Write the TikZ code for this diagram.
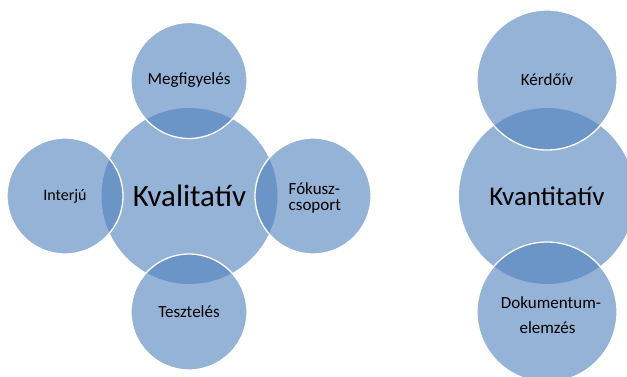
\documentclass[tikz,border=0pt]{standalone}
\usepackage{fontspec}
\setmainfont{Carlito}
\definecolor{circblue}{RGB}{79,129,189}
\tikzset{
  bigc/.style={circle, inner sep=0pt, outer sep=0pt, fill=circblue, fill opacity=0.6, text opacity=1, draw=none},
  smallc/.style={circle, inner sep=0pt, outer sep=0pt, fill=circblue, fill opacity=0.6, text opacity=1, draw=white, line width=1.3pt},
  smalltxt/.style={font=\fontsize{17}{17}\selectfont, text=black, inner sep=0pt},
  bigtxt/.style={font=\fontsize{31}{31}\selectfont, text=black, inner sep=0pt}
}
\begin{document}
\begin{tikzpicture}[x=1pt,y=-1pt]
\clip (0,0) rectangle (627,376);
\fill[white] (0,0) rectangle (627,376);
% left group
\node[bigc, minimum size=176pt, font=\fontsize{31}{31}\selectfont] (kval) at (189.5,196) {Kvalitatív};
\node[smallc, minimum size=116pt, font=\fontsize{17}{17}\selectfont] (megf) at (189,80.5) {Megfigyelés};
\node[smallc, minimum size=116pt, font=\fontsize{16}{16}\selectfont] (interju) at (65,196) {Interjú};
\node[smallc, minimum size=116pt] (fokusz) at (313,196) {};
\node[smallc, minimum size=116pt, font=\fontsize{17}{17}\selectfont] (teszt) at (189,312) {Tesztelés};
\node[smalltxt, anchor=base west] (fokusztxt1) at (288.5,194) {Fókusz-};
\node[smalltxt, anchor=base west] (fokusztxt2) at (288.5,210.3) {csoport};
% right group
\node[bigc, minimum size=176pt, font=\fontsize{27}{27}\selectfont] (kvant) at (547,196) {Kvantitatív};
\node[smallc, minimum size=140pt, font=\fontsize{17}{17}\selectfont] (kerdoiv) at (547,80) {Kérdőív};
\node[smallc, minimum size=140pt] (dok) at (547,312) {};
\node[smalltxt, anchor=base] (doktxt1) at (551,308.3) {Dokumentum-};
\node[smalltxt, anchor=base] (doktxt2) at (547.5,333.3) {elemzés};
\end{tikzpicture}
\end{document}
